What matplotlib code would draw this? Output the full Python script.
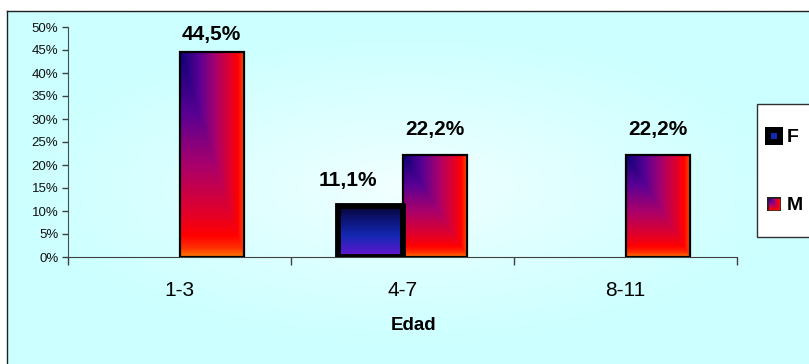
import numpy as np
import matplotlib
matplotlib.use("Agg")
import matplotlib.pyplot as plt
from matplotlib.colors import LinearSegmentedColormap, to_rgb
from matplotlib.patches import Rectangle
from matplotlib.ticker import PercentFormatter, FixedLocator

plt.rcParams['font.family'] = ['Liberation Sans', 'DejaVu Sans']

categories = ["1-3", "4-7", "8-11"]
series_names = ["F", "M"]
values_f = [0.0, 11.1, 0.0]
values_m = [44.5, 22.2, 22.2]
label_f = ["", "11,1%", ""]
label_m = ["44,5%", "22,2%", "22,2%"]
y_ticks = [0, 5, 10, 15, 20, 25, 30, 35, 40, 45, 50]
x_title = "Edad"

W, H, DPI = 809, 364, 100
fig = plt.figure(figsize=(W / DPI, H / DPI), dpi=DPI)
fig.patch.set_facecolor("white")

# chart-area background: pale cyan, lighter towards the middle
bg = fig.add_axes([7 / W, 0, 1 - 7 / W, 1 - 11 / H], zorder=0)
gx, gy = np.meshgrid(np.linspace(-1, 1, 400), np.linspace(-1, 1, 200))
r = np.clip(np.sqrt((gx * 1.0) ** 2 + (gy * 1.1) ** 2), 0, 1)
c0 = np.array(to_rgb("#f4ffff"))
c1 = np.array(to_rgb("#ccffff"))
img = c0 + (c1 - c0) * (r[..., None] ** 0.8)
bg.imshow(img, extent=[0, 1, 0, 1], aspect="auto")
bg.set_xlim(0, 1)
bg.set_ylim(0, 1)
bg.set_xticks([])
bg.set_yticks([])
for s in ["right", "bottom"]:
    bg.spines[s].set_visible(False)
for s in ["left", "top"]:
    bg.spines[s].set_color("#202020")
    bg.spines[s].set_linewidth(1.0)

ax = fig.add_axes([68 / W, 1 - 257 / H, 669 / W, 230 / H], zorder=1)
ax.patch.set_alpha(0)

x = np.arange(len(categories))
bw = 0.287

bars_f = ax.bar(x, values_f, width=-bw, align="edge", facecolor="none",
                edgecolor="black", linewidth=4.2, zorder=3)
bars_m = ax.bar(x, values_m, width=bw, align="edge", facecolor="none",
                edgecolor="black", linewidth=1.6, zorder=3)

cmap_m = LinearSegmentedColormap.from_list("m", [
    (0.0, "#0c0078"), (0.3, "#5a0094"), (0.55, "#a8006c"),
    (0.78, "#e0002c"), (0.9, "#ff0000"), (0.96, "#ff3000"), (1.0, "#ff7800")])
cmap_f = LinearSegmentedColormap.from_list("f", [
    (0.0, "#06062e"), (0.25, "#0c1270"), (0.6, "#1428b4"), (1.0, "#6a14d0")])

uu, vv = np.meshgrid(np.linspace(0, 1, 120), np.linspace(0, 1, 240))
grad_m = np.maximum(uu, vv)   # row 0 is the top of the bar
grad_f = vv


def fill_bars(bars, vals, grad, cmap):
    for patch, val in zip(bars, vals):
        if val <= 0:
            patch.set_visible(False)
            continue
        x0, y0 = patch.get_x(), patch.get_y()
        xa, xb = sorted([x0, x0 + patch.get_width()])
        im = ax.imshow(grad, cmap=cmap, vmin=0, vmax=1, aspect="auto",
                       extent=[xa, xb, y0, y0 + patch.get_height()],
                       origin="upper", zorder=2, interpolation="bilinear")
        im.set_clip_path(patch)


fill_bars(bars_m, values_m, grad_m, cmap_m)
fill_bars(bars_f, values_f, grad_f, cmap_f)

ax.set_xlim(-0.5, len(categories) - 0.5)
ax.set_ylim(0, 50)

# value labels above each bar, kept inside the plot area
for xi, val, lab in zip(x, values_m, label_m):
    if lab:
        ax.text(xi + bw / 2, min(val + 5.6, 48.4), lab, ha="center", va="center",
                fontsize=15, fontweight="bold", zorder=5)
for xi, val, lab in zip(x, values_f, label_f):
    if lab:
        ax.annotate(lab, (xi - bw / 2, min(val + 5.6, 48.4)), xytext=(-16.5, 0),
                    textcoords="offset points", ha="center", va="center",
                    fontsize=15, fontweight="bold", zorder=5)

ax.set_yticks(y_ticks)
ax.yaxis.set_major_formatter(PercentFormatter(decimals=0))
ax.tick_params(axis="y", direction="out", length=4, width=1, color="#404040",
               labelsize=9.5, pad=3, labelcolor="#111111")

ax.xaxis.set_major_locator(FixedLocator(np.arange(len(categories) + 1) - 0.5))
ax.xaxis.set_minor_locator(FixedLocator(x))
ax.set_xticklabels([], minor=False)
ax.set_xticklabels(categories, minor=True)
ax.tick_params(axis="x", which="major", direction="out", length=6, width=1, color="#404040")
ax.tick_params(axis="x", which="minor", length=0, labelsize=15, pad=17)

for s in ["top", "right"]:
    ax.spines[s].set_visible(False)
ax.spines["left"].set_color("#405050")
ax.spines["bottom"].set_color("#404040")

fig.text(414 / W, 1 - 325 / H, x_title, ha="center", va="center",
         fontsize=13.5, fontweight="bold")

# legend box
fig.patches.append(Rectangle((757 / W, 1 - 237 / H), 60 / W, 133 / H,
                             transform=fig.transFigure, facecolor="white",
                             edgecolor="#303030", linewidth=1.0, zorder=4))
la_f = fig.add_axes([765 / W, 1 - 145 / H, 18 / W, 18 / H], zorder=5)
la_f.add_patch(Rectangle((0, 0), 1, 1, facecolor="black", edgecolor="none"))
la_f.add_patch(Rectangle((0.36, 0.36), 0.28, 0.28, facecolor="#1428b4", edgecolor="none"))
la_f.set_xlim(0, 1); la_f.set_ylim(0, 1); la_f.axis("off")

la_m = fig.add_axes([767 / W, 1 - 211 / H, 14 / W, 14 / H], zorder=5)
la_m.imshow(grad_m, cmap=cmap_m, vmin=0, vmax=1, aspect="auto",
            extent=[0, 1, 0, 1], origin="upper")
la_m.add_patch(Rectangle((0, 0), 1, 1, facecolor="none", edgecolor="#222222", linewidth=1.8))
la_m.set_xlim(0, 1); la_m.set_ylim(0, 1); la_m.axis("off")

for name, yc in zip(series_names, [137, 205]):
    fig.text(787 / W, 1 - yc / H, name, ha="left", va="center",
             fontsize=14, fontweight="bold", zorder=6)

fig.savefig("out.png", dpi=DPI)
